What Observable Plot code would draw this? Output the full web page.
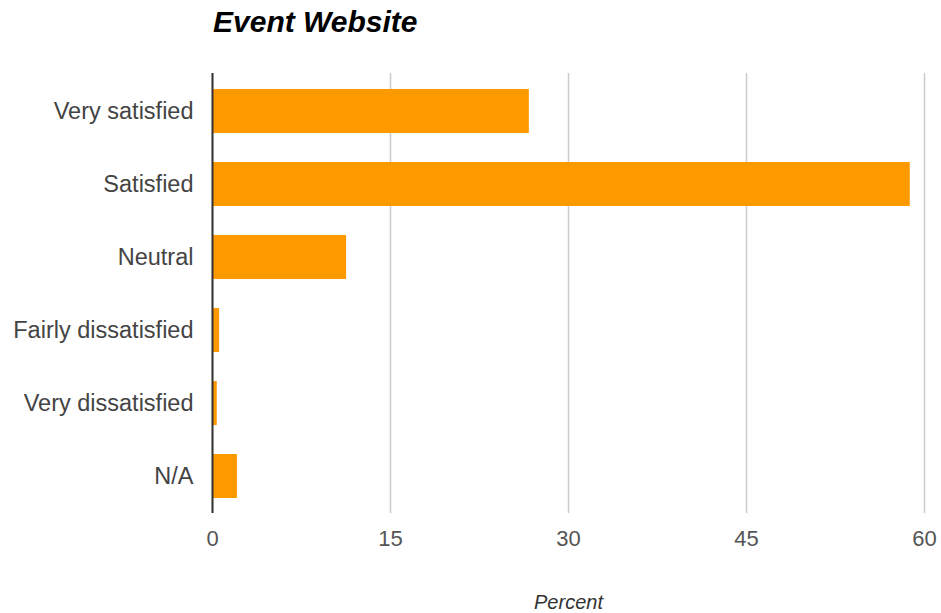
<!DOCTYPE html>
<html>
<head>
<meta charset="utf-8">
<script src="https://cdn.jsdelivr.net/npm/d3@7"></script>
<script src="https://cdn.jsdelivr.net/npm/@observablehq/plot@0.6"></script>
<style>
  html, body { margin: 0; padding: 0; background: #fff; }
  #title { height: 60px; box-sizing: border-box; padding-left: 213px; padding-top: 5px;
    font: italic bold 30px "Liberation Sans", Arial, sans-serif; color: #000; }
  #chart svg { display: block; }
  #chart svg [aria-label="x-axis label"] text { font-style: italic; }
</style>
</head>
<body>
<div id="title">Event Website</div>
<div id="chart"></div>
<script>
const categories = ["Very satisfied", "Satisfied", "Neutral", "Fairly dissatisfied", "Very dissatisfied", "N/A"];
const percents = [26.7, 58.8, 11.3, 0.6, 0.4, 2.1];
const xTicks = [0, 15, 30, 45, 60];
const xLabel = "Percent";

const data = categories.map((c, i) => ({category: c, percent: percents[i]}));

const chart = Plot.plot({
  width: 941,
  height: 553,
  marginLeft: 212,
  marginRight: 17,
  marginTop: 13,
  marginBottom: 100,
  style: {fontFamily: "'Liberation Sans', Arial, sans-serif", fontSize: "21px", background: "#fff"},
  x: {domain: [0, 60], ticks: xTicks, label: xLabel},
  y: {domain: categories, label: null, paddingInner: 0.4, paddingOuter: 0.2},
  marks: [
    Plot.gridX(xTicks, {stroke: "#ccc", strokeOpacity: 1, strokeWidth: 1.5}),
    Plot.axisX(xTicks, {tickSize: 0, tickPadding: 17, fontSize: 22, color: "#555", label: null}),
    Plot.axisX({tickSize: 0, ticks: [], fontSize: 20, color: "#333", label: xLabel,
      labelAnchor: "center", labelArrow: "none", labelOffset: 95}),
    Plot.axisY({tickSize: 0, tickPadding: 19, fontSize: 23.5, color: "#444", label: null}),
    Plot.barX(data, {x: "percent", y: "category", fill: "#ff9900"}),
    Plot.ruleX([0], {stroke: "#333", strokeWidth: 2})
  ]
});
document.getElementById("chart").appendChild(chart);
</script>
</body>
</html>
